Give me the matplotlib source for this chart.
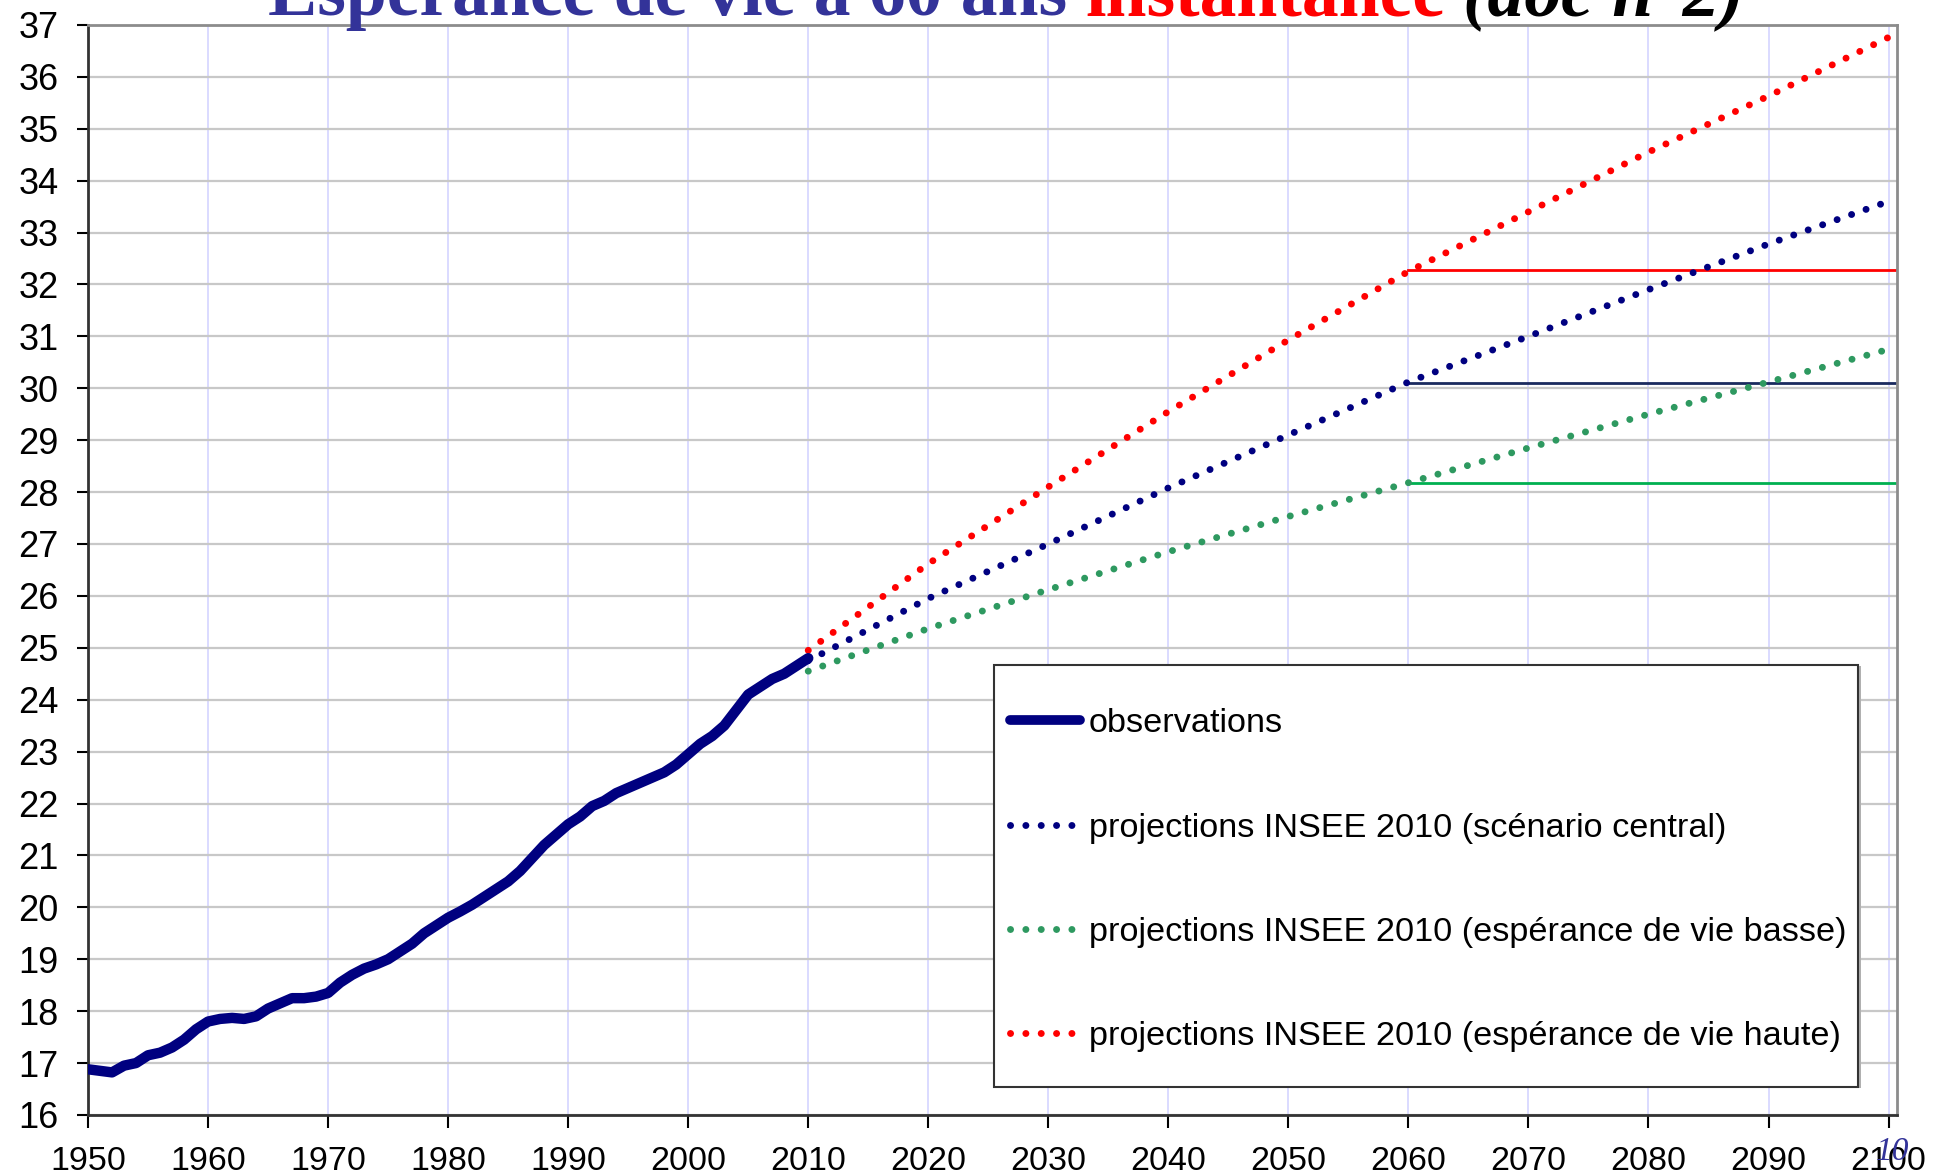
import matplotlib
matplotlib.use("Agg")
from matplotlib import pyplot as plt
from matplotlib.lines import Line2D
from matplotlib.patches import Rectangle

# observations (esperance de vie a 60 ans, instantanee)
obs_years = list(range(1950, 2011))
obs_values = [16.88, 16.85, 16.82, 16.95, 17.0, 17.15, 17.2, 17.3, 17.45, 17.65,
              17.8, 17.85, 17.87, 17.85, 17.9, 18.05, 18.15, 18.25, 18.25, 18.28,
              18.35, 18.55, 18.7, 18.82, 18.9, 19.0, 19.15, 19.3, 19.5, 19.65,
              19.8, 19.92, 20.05, 20.2, 20.35, 20.5, 20.7, 20.95, 21.2, 21.4,
              21.6, 21.75, 21.95, 22.05, 22.2, 22.3, 22.4, 22.5, 22.6, 22.75,
              22.95, 23.15, 23.3, 23.5, 23.8, 24.1, 24.25, 24.4, 24.5, 24.65,
              24.8]

# projections INSEE 2010
proj_years = [2010, 2020, 2030, 2040, 2050, 2060, 2070, 2080, 2090, 2100]
proj_central = [24.75, 25.95, 27.0, 28.08, 29.1, 30.12, 31.0, 31.9, 32.78, 33.6]
proj_basse = [24.55, 25.37, 26.12, 26.85, 27.53, 28.18, 28.85, 29.5, 30.12, 30.75]
proj_haute = [24.95, 26.62, 28.1, 29.55, 30.93, 32.25, 33.4, 34.55, 35.63, 36.76]

# niveaux 2060 maintenus
level_start = 2060
level_haute = 32.28
level_central = 30.1
level_basse = 28.18

labels = ["observations",
          "projections INSEE 2010 (scénario central)",
          "projections INSEE 2010 (espérance de vie basse)",
          "projections INSEE 2010 (espérance de vie haute)"]

NAVY = '#000080'
RED = '#ff0000'
GREEN_DOT = '#2e9960'
GREEN_LINE = '#00b050'
NAVY_LINE = '#1a2a5e'

plt.rcParams['font.family'] = ['Liberation Sans', 'DejaVu Sans']

fig = plt.figure(figsize=(19.52, 11.75), dpi=100)
ax = fig.add_axes([0.0451, 0.0511, 0.9267, 0.9277])

x_end = 2100.7
ax.set_xlim(1950, x_end)
ax.set_ylim(16, 37)

dots = dict(linestyle=(0, (0.01, 2.2)), dash_capstyle='round', lw=5)

ax.plot(proj_years, proj_haute, color=RED, zorder=3, **dots)
ax.plot(proj_years, proj_central, color=NAVY, zorder=3, **dots)
ax.plot(proj_years, proj_basse, color=GREEN_DOT, zorder=3, **dots)

ax.plot([level_start, x_end], [level_haute, level_haute], color=RED, lw=2, zorder=2)
ax.plot([level_start, x_end], [level_central, level_central], color=NAVY_LINE, lw=2, zorder=2)
ax.plot([level_start, x_end], [level_basse, level_basse], color=GREEN_LINE, lw=2, zorder=2)

ax.plot(obs_years, obs_values, color=NAVY, lw=7.5, solid_capstyle='round',
        solid_joinstyle='round', zorder=4)

ax.set_xticks(range(1950, 2101, 10))
ax.set_yticks(range(16, 38))
ax.set_axisbelow(True)
ax.yaxis.grid(True, color='#c8c8c8', lw=1.6)
ax.xaxis.grid(True, color='#d4d4ff', lw=1.2)
ax.tick_params(axis='y', labelsize=26, length=8, width=1.5, direction='out', pad=13)
ax.tick_params(axis='x', labelsize=24.5, length=9, width=1.5, direction='out', pad=13)
for s in ['left', 'bottom']:
    ax.spines[s].set_color('#333333')
    ax.spines[s].set_linewidth(2)
for s in ['top', 'right']:
    ax.spines[s].set_color('#8c8c8c')
    ax.spines[s].set_linewidth(2)

# cadre de la legende
ax.add_patch(Rectangle((0.5025, 0.0245), 0.4775, 0.387, transform=ax.transAxes,
                       facecolor='#b0b0b0', edgecolor='none', zorder=5))
ax.add_patch(Rectangle((0.501, 0.026), 0.4775, 0.387, transform=ax.transAxes,
                       facecolor='white', edgecolor='#333333', lw=1.5, zorder=6))

handles = [Line2D([], [], color=NAVY, lw=7, solid_capstyle='round'),
           Line2D([], [], color=NAVY, **dots),
           Line2D([], [], color=GREEN_DOT, **dots),
           Line2D([], [], color=RED, **dots)]
leg = ax.legend(handles, labels, loc='center left', bbox_to_anchor=(0.5095, 0.2155),
                frameon=False, fontsize=24.7, handlelength=2.04, handletextpad=0.26,
                labelspacing=2.13, borderaxespad=0, borderpad=0)
leg.set_zorder(7)

# titre (coupe en haut de l'image)
title_parts = [("Espérance de vie à 60 ans", '#333399', 'normal'),
               ("instantanée", RED, 'normal'),
               ("(doc n°2)", 'black', 'italic')]
renderer = fig.canvas.get_renderer()
x_px = 268
for txt, col, sty in title_parts:
    t = fig.text(x_px / 1952, 1 - 15 / 1175, txt, color=col, fontsize=53,
                 fontweight='bold', fontstyle=sty, family='Liberation Serif',
                 va='baseline', ha='left')
    bb = t.get_window_extent(renderer)
    x_px = bb.x1 + 18

fig.text(1893 / 1952, 1 - 1152 / 1175, "10", color='#333399', fontsize=24,
         fontstyle='italic', family='Liberation Serif', ha='center', va='center')

plt.savefig('out.png', dpi=100)
